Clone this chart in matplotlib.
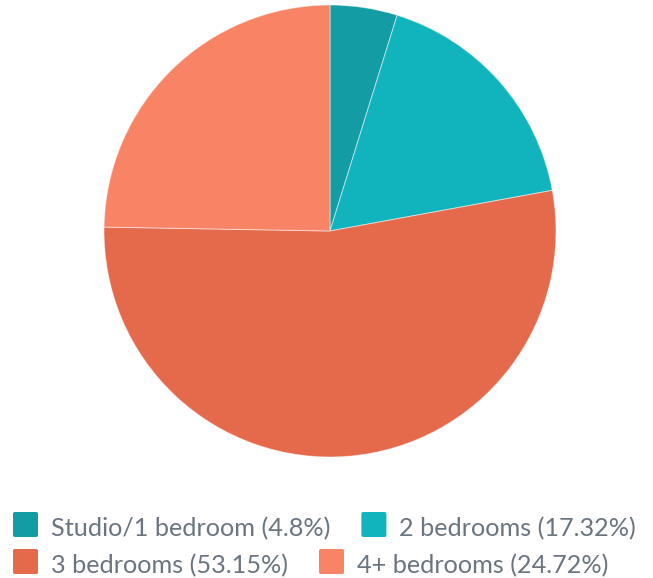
import matplotlib
matplotlib.use('Agg')
import matplotlib.pyplot as plt
from matplotlib.patches import FancyBboxPatch

plt.rcParams['font.family'] = ['Lato', 'DejaVu Sans']

labels = ['Studio/1 bedroom', '2 bedrooms', '3 bedrooms', '4+ bedrooms']
shares = [4.8, 17.32, 53.15, 24.72]
colors = ['#139ca3', '#11b4bc', '#e5694b', '#f98365']
legend_rows = [[0, 1], [2, 3]]

W, H = 653, 578
fig = plt.figure(figsize=(W / 100, H / 100), dpi=100)

# pie area: centre (330, 231), radius 226 in pixels
cx, cy, r = 330, 231, 226
ax = fig.add_axes([(cx - r) / W, 1 - (cy + r) / H, 2 * r / W, 2 * r / H])
ax.pie(shares, colors=colors, startangle=90, counterclock=False,
       wedgeprops=dict(edgecolor=(1, 1, 1, 0.5), linewidth=0.7))
ax.set_xlim(-1, 1)
ax.set_ylim(-1, 1)
ax.set_aspect('equal')
ax.axis('off')

# legend laid out as a flowing row, like the source chart
renderer = fig.canvas.get_renderer()
baselines = [536, 573]
for row, base in zip(legend_rows, baselines):
    x = 13
    for i in row:
        sq = FancyBboxPatch(((x) / W, 1 - (base + 1) / H), 25 / W, 25 / H,
                            boxstyle='round,pad=0,rounding_size=0.003',
                            transform=fig.transFigure, facecolor=colors[i],
                            edgecolor='none')
        fig.patches.append(sq)
        tx = x + 38
        t = fig.text(tx / W, 1 - base / H, f'{labels[i]} ({shares[i]}%)',
                     fontsize=18.2, color='#6b7580', va='baseline', ha='left')
        bb = t.get_window_extent(renderer)
        x = bb.x1 + 31

fig.savefig('out.png', dpi=100)
